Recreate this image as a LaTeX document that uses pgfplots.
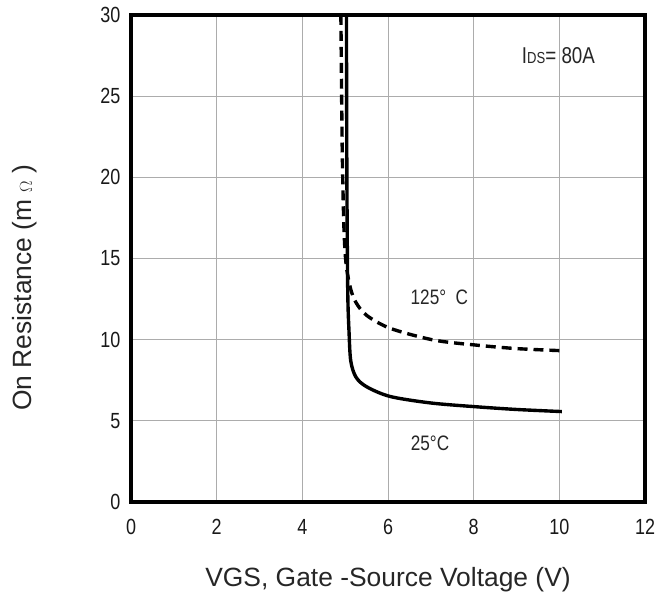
\documentclass[border=0pt]{standalone}
\usepackage{fontspec}
\setmainfont{Liberation Sans}
\newfontfamily\narrowfont[FakeStretch=0.82]{Liberation Sans}
\usepackage{pgfplots}
\pgfplotsset{compat=1.18}
\begin{document}
\begin{tikzpicture}
\path[use as bounding box] (-131bp,-97bp) rectangle (528bp,502bp);
\begin{axis}[
  at={(0,0)}, anchor=south west,
  scale only axis, width=514bp, height=487bp,
  xmin=0, xmax=12, ymin=0, ymax=30,
  xtick={0,2,...,12}, ytick={0,5,...,30},
  grid=major,
  major grid style={gray!65, line width=0.9pt},
  major tick length=0pt,
  axis line style={line width=3.2pt},
  /pgf/number format/assume math mode=true,
  ticklabel style={font=\fontsize{22}{24}\selectfont\narrowfont, text=black!90},
  xticklabel style={yshift=-14bp},
  yticklabel style={xshift=-7bp},
  xlabel={VGS, Gate -Source Voltage (V)},
  ylabel={On Resistance (m {\fontsize{19}{20}\selectfont$\Omega$} )},
  label style={font=\fontsize{26.5}{30}\selectfont, text=black!85},
  xlabel style={at={(axis description cs:0.5,0)}, anchor=center, yshift=-78bp},
  ylabel style={at={(axis description cs:0,0.44)}, anchor=center, rotate=0, yshift=106bp},
  clip=true,
]
% 25 C (solid)
\addplot[black, line width=3.4pt, smooth, tension=0.5] coordinates {
  (5.03,30) (5.04,20) (5.06,13) (5.09,10.5) (5.13,8.7) (5.25,7.7)
  (5.5,7.1) (6.05,6.5) (7.0,6.1) (8.04,5.87) (9.0,5.7) (10.06,5.57)
};
% 125 C (dashed)
\addplot[black, line width=3.4pt, dash pattern=on 10pt off 6pt, smooth, tension=0.5] coordinates {
  (4.9,30) (4.93,22) (4.97,17) (5.02,14.7) (5.12,13.2) (5.25,12.3)
  (5.5,11.5) (6.05,10.7) (7.06,9.98) (8.04,9.67) (9.0,9.45) (10.06,9.32)
};
\node[font=\fontsize{23}{24}\selectfont\narrowfont, text=black!85] at (axis cs:9.98,27.5) {I{\fontsize{16}{16}\selectfont DS}= 80A};
\node[font=\fontsize{21}{24}\selectfont\narrowfont, text=black!85] at (axis cs:7.2,12.6) {125°\ \ C};
\node[font=\fontsize{21}{24}\selectfont\narrowfont, text=black!85] at (axis cs:6.98,3.6) {25°C};
\end{axis}
\end{tikzpicture}
\end{document}
